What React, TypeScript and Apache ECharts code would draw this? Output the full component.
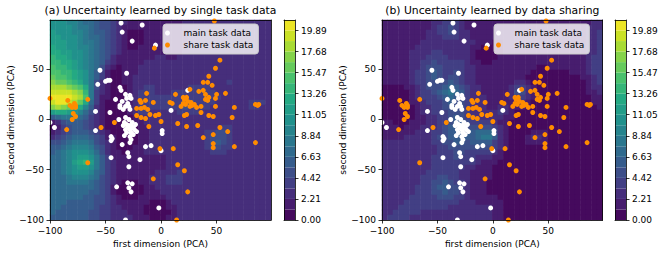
import React, { useEffect, useRef } from "react";
import * as echarts from "echarts";

// ---------------- data ----------------
const xTicks = [-100, -50, 0, 50];
const yTicks = [-100, -50, 0, 50];
const cbTicks = [0, 2.21, 4.42, 6.63, 8.84, 11.05, 13.26, 15.47, 17.68, 19.89];
const levelStep = 1.105;
const bandCount = 19;
const cellCentersX = [
  -97.5, -92.5, -87.5, -82.5, -77.5, -72.5, -67.5, -62.5, -57.5, -52.5,
  -47.5, -42.5, -37.5, -32.5, -27.5, -22.5, -17.5, -12.5, -7.5, -2.5,
  2.5, 7.5, 12.5, 17.5, 22.5, 27.5, 32.5, 37.5, 42.5, 47.5,
  52.5, 57.5, 62.5, 67.5, 72.5, 77.5, 82.5, 87.5, 92.5, 97.5,
];
const cellCentersY = [
  -97.5, -92.5, -87.5, -82.5, -77.5, -72.5, -67.5, -62.5, -57.5, -52.5,
  -47.5, -42.5, -37.5, -32.5, -27.5, -22.5, -17.5, -12.5, -7.5, -2.5,
  2.5, 7.5, 12.5, 17.5, 22.5, 27.5, 32.5, 37.5, 42.5, 47.5,
  52.5, 57.5, 62.5, 67.5, 72.5, 77.5, 82.5, 87.5, 92.5, 97.5,
];

// contour band index (base-36 digit) per 5x5 cell, rows from y=97.5 (top) down to y=-97.5
const uncertaintySingle = [
  "99988766544322111111" + "11112222222222222222",
  "99998776544321111111" + "11112222222222222222",
  "a9998876554321000111" + "11111222222222222222",
  "aa999876654321000111" + "11111222222222222222",
  "aaa99877654321000111" + "11111222222222222222",
  "baa99887654321001111" + "11111222222222222222",
  "bbaa9987654321111111" + "11112222222222222222",
  "cbba9987654211111112" + "21122222222222222222",
  "ccbba987653211111222" + "22222222222222222222",
  "dccba987642101112222" + "22222222222222222222",
  "ddccba97531001112222" + "22222222222222222222",
  "eddcba97531001122222" + "22222222222222222222",
  "feedcb97421001122222" + "22222222222232222222",
  "gggfedb7421000122332" + "22222333322222222222",
  "hhhhgfc7321000123332" + "22333333332222222222",
  "iiiihgd7311000123333" + "33333333333222222222",
  "hiihgeb6310001123333" + "33334433332222223332",
  "fgfedb85210000123333" + "33334333322222223322",
  "abba9864210000123322" + "22233332222222222222",
  "56777653210000012222" + "22222222222222222222",
  "12455543210000011222" + "22222222222222222222",
  "01345543210000001122" + "22222222222332222222",
  "12345554321000001122" + "22222222334432222222",
  "23456665431100001122" + "22222222344432222222",
  "44567776432100001122" + "22222222345432222222",
  "55678887542100011222" + "22222222344332222222",
  "56789998642110111222" + "22222222233322222222",
  "66789aa9753111111111" + "12222222222222222222",
  "6678abca753211111111" + "12222222222222222222",
  "66789aa9753211111111" + "12222222222222222222",
  "66789998653211111112" + "22232222222222222222",
  "66678887643211111122" + "23332222222222222222",
  "66677776543210001122" + "23332222222222222222",
  "66666666543100000112" + "22222222222222222222",
  "66666665543100000111" + "22222222222222222222",
  "66666655443210001111" + "12222222222222222222",
  "66655555443211111100" + "01222222222222222222",
  "66555555433221111000" + "01122222222222222222",
  "65555554433222111000" + "00122222222222222222",
  "55555554433222211100" + "01122222222222222222",
];
const uncertaintyShared = [
  "11111111122333211111" + "11111111111111111122",
  "11111111123343211111" + "11111111111111111222",
  "11111111223343221111" + "11111111111111111223",
  "11111111222333221111" + "11111111111111111223",
  "11111112222222222111" + "00111111111111111223",
  "11111122222222221100" + "00111111111111111223",
  "11111222233222221000" + "00111111111111111223",
  "11111222333322221000" + "01111111111111111233",
  "11111223343333321100" + "11111111111111111233",
  "11111223444333322111" + "11111111001111111233",
  "11111233454334322111" + "11111110000000111233",
  "11111233454344322111" + "11111100000000001123",
  "11111233444454322111" + "11112210000000000123",
  "00001123444565432211" + "11123321000000000122",
  "00000123345676532211" + "11124421000000000112",
  "00000123334565432221" + "11123321000000000011",
  "00000112333454432221" + "11112210000000000011",
  "00000012233444432221" + "12211100000000000001",
  "00000012233344432222" + "23210000000000000000",
  "00000011223345433222" + "22110000000000000000",
  "11000111223345543333" + "21100000000000000000",
  "11101112223455544444" + "32100000000000000000",
  "11111122233455555666" + "42100001110000000000",
  "11112222234455555677" + "52100012210000000000",
  "22222222233445545555" + "32100011110000000000",
  "22222222223344444444" + "32100000000000000000",
  "22222222223334433333" + "21000000000000000000",
  "22222222233334333222" + "11000000000000000000",
  "22222222233333333211" + "10000000000000000000",
  "22222222233333322111" + "00000000000000000000",
  "22222222333333221111" + "00000000000000000000",
  "22222223334433221111" + "00000000000000000000",
  "22222223344543321110" + "00000000000000000000",
  "22222233345544321110" + "00000000000000000000",
  "22222233344544321110" + "00000000000000000000",
  "22222333334443321111" + "10000000000000000000",
  "22223333333333222111" + "11000000000000000000",
  "22233333333322222222" + "11000000000000000000",
  "22333332222222222222" + "11000000000000000000",
  "23333222222222222222" + "11000000000000000000",
];

const mainTask: number[][] = [
  [-36, 96], [-35, 87], [-17, 94], [-26, 78], [-5, 74],
  [-55, 49], [-31, 46], [-50, 38], [-48, 39], [-46, 39], [-57, 35],
  [-37, 32], [-36, 29], [-32, 25], [-31, 21], [-28, 24], [-27, 21], [-35, 18], [-30, 16],
  [-32, 13], [-34, 10], [-37, 12], [-29, 13], [-28, 10], [-41, 20], [-37, 14],
  [-59, 8], [-46, 7], [-32, 2], [-29, 0], [-38, 0],
  [-100, -3], [-96, -8], [-59, -11],
  [-31, -5], [-29, -6], [-27, -7], [-30, -8], [-25, -8], [-32, -10], [-28, -10], [-24, -10],
  [-31, -13], [-27, -13], [-28, -17], [-25, -15], [-27, -20], [-28, -23], [-33, -3], [-26, -3],
  [-23, -5], [-22, -12], [-34, -6],
  [-45, -17], [-44, -19], [-45, -21], [-33, -16], [-35, -25], [-30, -33], [-29, -37], [-19, -40],
  [-45, -38], [-29, -47],
  [-40, -67], [-30, -63], [-26, -64], [-29, -68], [-27, -72], [-2, -88], [-32, -100],
  [24, 29], [9, 9], [1, -11], [1, -14], [0, -31], [-9, -26], [-14, -27],
];

const shareTask: number[][] = [
  [-56, 100], [48, 98], [-6, 71], [53, 59], [49, 51], [43, 43], [38, 37], [42, 37], [46, 34],
  [26, 30], [34, 28], [38, 29], [40, 25], [43, 22], [42, 19], [40, 20], [50, 25], [58, 26], [49, 21],
  [13, 25], [20, 22], [23, 22], [21, 20], [24, 18], [27, 17], [22, 15], [26, 13], [20, 16], [28, 14],
  [30, 15], [18, 13], [8, 17], [10, 16],
  [36, 13], [32, 12], [49, 13], [66, 12], [85, 15], [87, 14], [88, 15], [100, 12],
  [23, 5], [21, 4], [43, 4], [47, 3], [64, 2], [36, 7],
  [15, -4], [23, -7], [33, -6], [53, -8], [47, -15], [60, -12], [38, -18], [47, -24], [47, -28],
  [66, -27], [85, -23],
  [11, -29], [-1, -29], [15, -45], [21, -51], [-7, -59], [24, -72], [14, -100],
  [-66, -43], [-100, 21], [-84, 19], [-82, 14], [-78, 16], [-77, 14], [-80, 12], [-77, 12],
  [-79, 6], [-77, 3], [-80, 0], [-85, -10], [-66, 20],
  [-54, -8], [-42, -3],
  [-19, 19], [-18, 17], [-13, 26], [-14, 19], [-7, 17], [-22, 11], [-18, 11], [-15, 12], [-12, 10],
  [-22, 4], [-18, 2], [-14, 1], [-10, 5], [-5, 4], [-2, 5], [-11, -7], [0, -2],
];

const seriesNames = ["main task data", "share task data"];
const titles = ["(a) Uncertainty learned by single task data", "(b) Uncertainty learned by data sharing"];
const xName = "first dimension (PCA)";
const yName = "second dimension (PCA)";

// ---------------- styling ----------------
const FONT = "DejaVu Sans";
const viridisStops = ["#440154", "#482475", "#414487", "#355f8d", "#2a788e", "#21918c", "#22a884", "#44bf70", "#7ad151", "#bddf26", "#fde725"];
function hex(c: string) {
  return [1, 3, 5].map((i) => parseInt(c.slice(i, i + 2), 16));
}
function viridis(t: number) {
  const s = Math.max(0, Math.min(1, t)) * 10;
  const i = Math.min(9, Math.floor(s));
  const f = s - i;
  const a = hex(viridisStops[i]);
  const b = hex(viridisStops[i + 1]);
  const m = a.map((v, k) => Math.round(v + (b[k] - v) * f));
  return `rgb(${m[0]},${m[1]},${m[2]})`;
}
const bandColors = Array.from({ length: bandCount }, (_, i) => viridis((i + 0.5) / bandCount));

const layout = [
  { left: 50, width: 221, cbLeft: 284, legendLeft: 163 },
  { left: 382, width: 220.6, cbLeft: 615, legendLeft: 494 },
];
const plotTop = 20;
const plotHeight = 200;
const cbWidth = 11;
const minus = (v: number) => String(v).replace("-", "\u2212");
const axisLineStyle = { show: true, onZero: false, lineStyle: { color: "#000", width: 0.8 } };
const labelStyle = { fontFamily: FONT, fontSize: 9, color: "#000" };

function buildOption() {
  const grid: any[] = [];
  const xAxis: any[] = [];
  const yAxis: any[] = [];
  const series: any[] = [];
  const title: any[] = [];
  const legend: any[] = [];
  const heatIdx: number[] = [];
  const fields = [uncertaintySingle, uncertaintyShared];

  layout.forEach((p, k) => {
    const g = grid.length;
    grid.push({ left: p.left, top: plotTop, width: p.width, height: plotHeight });
    grid.push({ left: p.left, top: plotTop, width: p.width, height: plotHeight });
    grid.push({ left: p.cbLeft, top: plotTop, width: cbWidth, height: plotHeight });

    const xi = xAxis.length;
    const yi = yAxis.length;
    xAxis.push({ type: "category", gridIndex: g, data: cellCentersX.map(String), show: false });
    yAxis.push({ type: "category", gridIndex: g, data: cellCentersY.map(String), show: false });
    xAxis.push({
      type: "value", gridIndex: g + 1, min: -100, max: 99, z: 10,
      axisLine: axisLineStyle,
      axisTick: { show: true, length: 3.5, customValues: xTicks, lineStyle: { color: "#000", width: 0.8 } },
      axisLabel: { ...labelStyle, margin: 6, customValues: xTicks, formatter: minus },
      splitLine: { show: false },
      name: xName, nameLocation: "middle", nameGap: 18,
      nameTextStyle: labelStyle,
    });
    xAxis.push({
      type: "value", gridIndex: g + 1, min: -100, max: 99, position: "top", z: 10,
      axisLine: axisLineStyle, axisTick: { show: false }, axisLabel: { show: false }, splitLine: { show: false },
    });
    yAxis.push({
      type: "value", gridIndex: g + 1, min: -100, max: 99, z: 10,
      axisLine: axisLineStyle,
      axisTick: { show: true, length: 3.5, customValues: yTicks, lineStyle: { color: "#000", width: 0.8 } },
      axisLabel: { ...labelStyle, margin: 6, customValues: yTicks, formatter: minus },
      splitLine: { show: false },
      name: yName, nameLocation: "middle", nameGap: 30,
      nameTextStyle: labelStyle,
    });
    yAxis.push({
      type: "value", gridIndex: g + 1, min: -100, max: 99, position: "right", z: 10,
      axisLine: axisLineStyle, axisTick: { show: false }, axisLabel: { show: false }, splitLine: { show: false },
    });
    xAxis.push({ type: "category", gridIndex: g + 2, data: ["cb"], z: 10, axisLine: axisLineStyle, axisTick: { show: false }, axisLabel: { show: false } });
    xAxis.push({ type: "category", gridIndex: g + 2, data: ["cb"], position: "top", z: 10, axisLine: axisLineStyle, axisTick: { show: false }, axisLabel: { show: false } });
    yAxis.push({
      type: "value", gridIndex: g + 2, min: 0, max: bandCount * levelStep, position: "right", z: 10,
      axisLine: axisLineStyle,
      axisTick: { show: true, length: 3.5, customValues: cbTicks, lineStyle: { color: "#000", width: 0.8 } },
      axisLabel: { ...labelStyle, margin: 6, customValues: cbTicks, formatter: (v: number) => v.toFixed(2) },
      splitLine: { show: false },
    });
    yAxis.push({
      type: "value", gridIndex: g + 2, min: 0, max: bandCount * levelStep, position: "left", z: 10,
      axisLine: axisLineStyle, axisTick: { show: false }, axisLabel: { show: false }, splitLine: { show: false },
    });

    const heatData: number[][] = [];
    fields[k].forEach((row, r) => {
      row.split("").forEach((ch, c) => {
        heatData.push([c, cellCentersY.length - 1 - r, parseInt(ch, 36)]);
      });
    });
    heatIdx.push(series.length);
    series.push({
      type: "heatmap", xAxisIndex: xi, yAxisIndex: yi, data: heatData, z: 1, silent: true,
      itemStyle: { opacity: 1, borderWidth: 0 },
    });

    series.push({
      type: "scatter", name: seriesNames[0], xAxisIndex: xi + 1, yAxisIndex: yi + 1, data: mainTask,
      symbol: "circle", symbolSize: 5, itemStyle: { color: "#ffffff", opacity: 1 }, z: 3, silent: true,
    });
    series.push({
      type: "scatter", name: seriesNames[1], xAxisIndex: xi + 1, yAxisIndex: yi + 1, data: shareTask,
      symbol: "circle", symbolSize: 5, itemStyle: { color: "#ff8c00", opacity: 1 }, z: 3, silent: true,
    });

    bandColors.forEach((col) => {
      series.push({
        type: "bar", xAxisIndex: xi + 3, yAxisIndex: yi + 3, stack: "cb" + k, data: [levelStep],
        barWidth: "100%", itemStyle: { color: col }, silent: true, z: 1,
      });
    });

    title.push({
      text: titles[k], left: p.left + p.width / 2, top: 5, textAlign: "center", padding: 0,
      textStyle: { fontFamily: FONT, fontSize: 10.8, fontWeight: "normal", color: "#000" },
    });
    legend.push({
      data: seriesNames, left: p.legendLeft, top: 24, orient: "vertical", icon: "circle",
      itemWidth: 22, itemHeight: 5, itemGap: 2, padding: [4, 5, 4, 2],
      backgroundColor: "rgba(255,255,255,0.8)", borderColor: "#cccccc", borderWidth: 1, borderRadius: 3,
      textStyle: { fontFamily: FONT, fontSize: 9, color: "#000", lineHeight: 10 },
      selectedMode: false,
    });
  });

  return {
    animation: false,
    backgroundColor: "#ffffff",
    textStyle: { fontFamily: FONT },
    title,
    legend,
    grid,
    xAxis,
    yAxis,
    visualMap: {
      type: "piecewise", show: false, seriesIndex: heatIdx, dimension: 2,
      pieces: bandColors.map((color, i) => ({ min: i - 0.5, max: i + 0.5, color })),
    },
    series,
  };
}

export default function App() {
  const ref = useRef<HTMLDivElement>(null);
  useEffect(() => {
    const chart = echarts.init(ref.current!, null, { renderer: "svg" });
    chart.setOption(buildOption() as any);
    return () => chart.dispose();
  }, []);
  return (
    <div
      ref={ref}
      style={{ position: "fixed", left: 0, top: 0, width: 665, height: 255, background: "#fff" }}
    />
  );
}
